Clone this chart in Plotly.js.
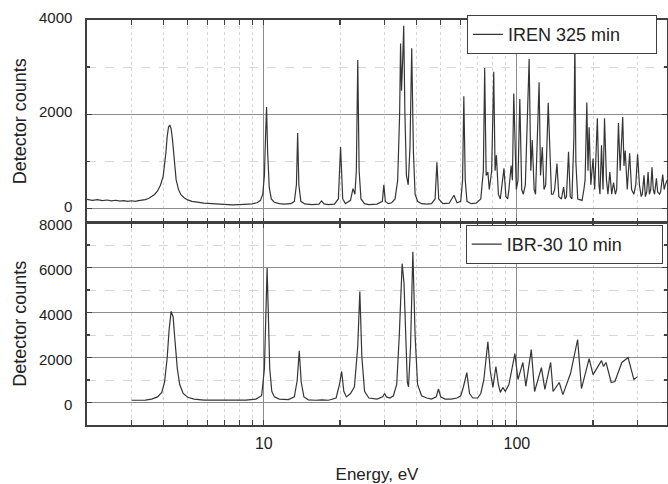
<!DOCTYPE html>
<html>
<head>
<meta charset="utf-8">
<script src="https://cdn.plot.ly/plotly-3.0.1.min.js"></script>
<style>html,body{margin:0;padding:0;background:#fff;}#chart{width:668px;height:484px;}</style>
</head>
<body>
<div id="chart"></div>
<script>
// IREN 325 min spectrum (top panel)
const energyIREN = [2.0,2.1,2.2,2.3,2.4,2.5,2.6,2.7,2.8,2.9,3.0,3.1,3.2,3.3,3.4,3.5,3.6,3.7,3.8,3.9,4.0,4.05,4.1,4.15,4.2,4.25,4.3,4.35,4.4,4.45,4.5,4.6,4.7,4.85,5.0,5.2,5.5,5.8,6.0,6.5,7.0,7.5,8.0,8.5,9.0,9.4,9.7,9.9,10.05,10.15,10.25,10.35,10.5,10.7,11.0,11.5,12.0,12.8,13.2,13.45,13.6,13.75,14.0,14.5,15.5,16.5,16.9,17.3,18.0,19.0,19.7,20.1,20.5,21.0,22.0,22.5,22.9,23.2,23.5,23.8,24.2,25.0,26.0,27.0,28.0,29.4,29.8,30.2,31.0,32.0,33.0,33.8,34.4,34.7,35.0,35.4,35.7,36.1,36.6,37.2,37.8,38.4,39.0,39.6,40.5,42.0,44.0,46.0,47.5,48.3,49.1,51.0,54.0,56.4,58.0,60.0,61.0,61.7,62.5,63.5,66.0,69.0,72.0,73.7,74.6,75.6,76.8,77.8,79.5,81.0,82.0,83.0,84.5,86.0,88.9,90.5,92.0,93.0,94.9,96.0,97.2,99.5,101.0,102.7,104.5,106.0,108.0,111.8,113.5,115.0,117.0,118.5,122.4,124.0,126.0,128.0,130.0,133.0,135.0,137.0,139.0,141.0,144.0,146.5,150.0,153.0,155.0,157.0,160.0,162.5,165.0,168.0,169.5,171.0,174.0,178.0,181.0,184.0,186.0,189.0,191.0,193.0,196.0,200.0,203.0,208.0,211.0,213.0,216.0,219.0,222.0,226.0,229.0,233.0,237.0,241.0,245.0,248.0,252.0,256.0,262.0,265.0,268.0,273.0,279.0,284.0,290.0,295.0,300.0,305.0,310.0,313.0,318.0,322.0,326.0,330.0,334.0,338.0,342.0,346.0,350.0,356.0,360.0,366.0,370.0,377.0,382.0,386.0,392.0];
const countsIREN = [190,172,185,165,178,160,172,155,166,150,162,150,163,172,185,210,245,295,370,490,680,880,1180,1530,1730,1770,1690,1480,1150,850,610,400,290,220,180,150,125,110,105,90,80,75,80,85,95,120,170,300,700,1500,2150,1200,450,200,130,100,90,100,150,500,1600,500,150,95,80,90,160,95,80,90,200,1300,200,100,170,420,300,800,3150,800,200,100,80,85,90,150,500,150,100,120,200,600,2000,3500,2500,3200,3880,2000,700,500,1300,3400,1200,300,150,100,90,100,200,980,200,100,110,280,120,150,600,2380,600,150,100,110,200,800,2980,700,770,400,800,2900,800,1130,300,200,850,250,200,400,910,600,2440,400,600,2320,400,300,500,3170,800,1450,400,300,2680,700,1300,400,500,2240,1300,300,300,400,950,250,200,450,200,250,1200,250,200,1500,3550,1000,200,180,170,400,600,2250,800,1720,500,1060,400,1915,500,300,1340,400,1915,600,300,770,300,550,300,400,1810,800,1940,900,1230,400,1170,400,300,500,1150,500,250,300,700,250,350,770,300,400,870,400,300,640,350,300,350,720,400,500,600];

// IBR-30 10 min spectrum (bottom panel)
const energyIBR = [3.0,3.2,3.4,3.6,3.8,3.95,4.05,4.15,4.22,4.3,4.38,4.45,4.55,4.65,4.8,5.0,5.3,5.8,6.5,7.5,8.5,9.3,9.8,10.05,10.2,10.3,10.4,10.55,10.75,11.0,11.5,12.0,12.5,13.2,13.55,13.8,14.05,14.4,15.0,16.0,17.0,18.0,19.3,19.9,20.3,20.7,21.2,22.0,22.8,23.5,23.95,24.4,25.0,26.0,28.0,29.5,30.0,30.5,31.5,32.5,33.5,34.3,35.2,35.8,36.3,36.9,37.3,38.0,38.8,39.6,40.5,42.0,44.0,46.0,48.0,49.0,50.0,52.0,55.0,58.0,60.0,61.5,63.4,65.0,67.0,70.0,72.0,74.0,76.8,78.5,80.4,82.6,84.5,86.0,88.0,90.0,93.0,98.2,101.0,105.6,108.5,114.0,117.5,125.0,129.0,136.0,139.0,147.0,152.0,163.0,173.8,180.0,193.0,200.0,216.0,220.0,225.0,236.0,244.0,260.0,275.0,290.0,300.0];
const countsIBR = [100,100,110,150,250,450,900,2000,3200,4050,3800,2800,1500,800,400,230,150,110,100,100,110,150,300,1500,4500,5980,4200,1500,500,250,150,130,130,250,1000,2300,900,250,120,100,120,100,200,800,1380,500,250,400,700,2500,4930,2000,500,200,150,250,400,250,200,300,800,3000,6170,5300,3000,900,700,2500,6700,3000,800,300,200,150,250,600,250,150,150,200,300,700,1330,400,200,200,400,1000,2700,1400,670,1600,800,450,670,500,800,2170,1020,1780,720,2350,490,1550,580,1780,490,890,350,1300,2800,620,1950,1240,1860,1600,1780,890,930,1780,2000,1020,1150];

const seriesNames = ['IREN 325 min', 'IBR-30 10 min'];
const xTickVals = [10, 100];
const xTickText = ['10', '100'];
const yTickValsTop = [0, 2000, 4000];
const yTickValsBottom = [0, 2000, 4000, 6000, 8000];

const lineColor = '#353535';
const axisColor = '#404040';
const fontFam = 'Liberation Sans, Arial, sans-serif';

const traces = [
  {x: energyIREN, y: countsIREN, xaxis: 'x2', yaxis: 'y2', type: 'scatter', mode: 'lines',
   name: seriesNames[0], legend: 'legend', line: {color: lineColor, width: 1.2}},
  {x: energyIBR, y: countsIBR, xaxis: 'x', yaxis: 'y', type: 'scatter', mode: 'lines',
   name: seriesNames[1], legend: 'legend2', line: {color: lineColor, width: 1.2}}
];

function xAxis(extra) {
  return Object.assign({
    type: 'log',
    range: [Math.log10(2), Math.log10(392)],
    tickvals: xTickVals, ticktext: xTickText,
    ticks: 'inside', ticklen: 5, tickcolor: axisColor, tickwidth: 1.2,
    showline: true, linecolor: axisColor, linewidth: 1.6, mirror: 'ticks',
    showgrid: true, gridcolor: '#8c8c8c', gridwidth: 1,
    zeroline: false,
    minor: {dtick: 'D1', ticks: 'inside', ticklen: 5, tickcolor: axisColor,
            showgrid: true, gridcolor: '#d4d4d4', griddash: 'dot', gridwidth: 1},
    tickfont: {family: fontFam, size: 16, color: '#222'}
  }, extra);
}

function yAxis(extra) {
  return Object.assign({
    tick0: 0, dtick: 2000,
    ticks: 'inside', ticklen: 5, tickcolor: axisColor, tickwidth: 1.2,
    showline: true, linecolor: axisColor, linewidth: 1.6, mirror: 'ticks',
    showgrid: true, gridcolor: '#8c8c8c', gridwidth: 1,
    zeroline: false,
    minor: {dtick: 1000, ticks: 'inside', ticklen: 3, tickcolor: axisColor,
            showgrid: true, gridcolor: '#d8d8d8', griddash: 'dash', gridwidth: 1},
    tickfont: {family: fontFam, size: 15, color: '#222'},
    ticklabelstandoff: 10
  }, extra);
}

const legendBase = {xanchor: 'left', yanchor: 'top', bgcolor: '#fff', orientation: 'h',
  bordercolor: axisColor, borderwidth: 1, font: {family: fontFam, size: 18, color: '#222'},
  entrywidthmode: 'pixels'};

const layout = {
  width: 668, height: 484,
  margin: {l: 87, r: 1, t: 20, b: 59},
  paper_bgcolor: '#fff', plot_bgcolor: '#fff',
  font: {family: fontFam, color: '#222'},
  xaxis: xAxis({anchor: 'y', domain: [0, 1], ticklabelstandoff: 3,
    title: {text: 'Energy, eV', font: {family: fontFam, size: 17, color: '#222'}, standoff: 21}}),
  xaxis2: xAxis({anchor: 'y2', domain: [0, 1], matches: 'x', showticklabels: false}),
  yaxis: yAxis({anchor: 'x', domain: [0, 0.5], range: [-1000, 8000], tickvals: yTickValsBottom,
    ticklabelshift: 2,
    title: {text: 'Detector counts', font: {family: fontFam, size: 18, color: '#222'}, standoff: 8}}),
  yaxis2: yAxis({anchor: 'x2', domain: [0.5, 1], range: [-300, 4000], tickvals: yTickValsTop,
    ticklabelshift: -2,
    title: {text: 'Detector counts', font: {family: fontFam, size: 18, color: '#222'}, standoff: 8}}),
  showlegend: true,
  legend: Object.assign({}, legendBase, {x: 0.655, y: 1.012, entrywidth: 143}),
  legend2: Object.assign({}, legendBase, {x: 0.653, y: 0.494, entrywidth: 150})
};

Plotly.newPlot('chart', traces, layout, {displayModeBar: false, staticPlot: true});
</script>
</body>
</html>
